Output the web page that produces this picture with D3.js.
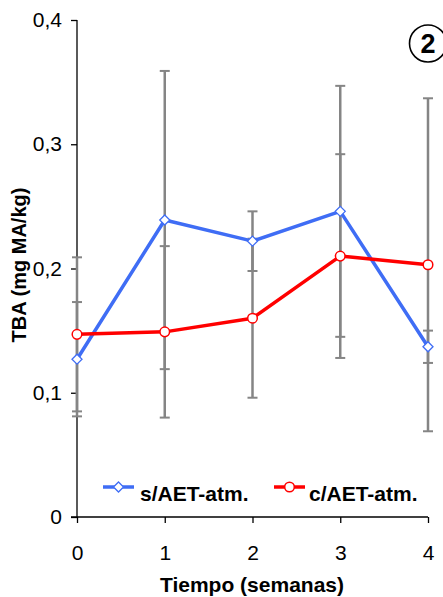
<!DOCTYPE html>
<html><head><meta charset="utf-8">
<script src="https://cdn.jsdelivr.net/npm/d3@7/dist/d3.min.js"></script>
<style>body{margin:0;background:#fff}svg{display:block;font-family:"Liberation Sans",Arial,sans-serif}</style>
</head><body>
<svg id="c" width="443" height="597"></svg>
<script>
const weeks = [0, 1, 2, 3, 4];
const seriesNames = ["s/AET-atm.", "c/AET-atm."];
const sValues = [0.127, 0.239, 0.222, 0.246, 0.137];
const sErrors = [0.046, 0.120, 0.024, 0.101, 0.013];
const cValues = [0.147, 0.149, 0.160, 0.210, 0.203];
const cErrors = [0.062, 0.069, 0.064, 0.082, 0.134];
const yTicks = [0, 0.1, 0.2, 0.3, 0.4];
const yTickLabels = ["0", "0,1", "0,2", "0,3", "0,4"];
const xTitle = "Tiempo (semanas)";
const yTitle = "TBA (mg MA/kg)";
const panelLabel = "2";

const svg = d3.select("#c");
const x = d3.scaleLinear().domain([0, 4]).range([77, 428]);
const y = d3.scaleLinear().domain([0, 0.4]).range([517, 20]);
const blue = "#3f6df5", red = "#ff0000", grey = "#858585";
const FONT = '"Liberation Sans",Arial,sans-serif';

// axes
const yAxis = d3.axisLeft(y).tickValues(yTicks).tickSize(6).tickFormat((d, i) => yTickLabels[i]);
const gy = svg.append("g").attr("transform", "translate(77,0)").call(yAxis)
  .attr("font-family", FONT).attr("font-size", 21);
gy.select(".domain").attr("stroke", "#000").attr("stroke-width", 1.3).attr("d", "M0,20V517");
gy.selectAll(".tick line").attr("stroke", "#000").attr("stroke-width", 1.3);
gy.selectAll(".tick text").attr("x", -15).attr("fill", "#000");

const xAxis = d3.axisBottom(x).tickValues(weeks).tickSize(6).tickFormat(d3.format("d"));
const gx = svg.append("g").attr("transform", "translate(0,517)").call(xAxis)
  .attr("font-family", FONT).attr("font-size", 21);
gx.select(".domain").attr("stroke", "#000").attr("stroke-width", 1.3).attr("d", "M71,0H428");
gx.selectAll(".tick line").attr("stroke", "#000").attr("stroke-width", 1.3);
gx.selectAll(".tick text").attr("y", 28).attr("fill", "#000");

// titles
svg.append("text").attr("x", 252).attr("y", 592).attr("text-anchor", "middle")
  .attr("font-size", 21).attr("font-weight", "bold").text(xTitle);
svg.append("text").attr("transform", "translate(26,265) rotate(-90)").attr("text-anchor", "middle")
  .attr("font-size", 20).attr("font-weight", "bold").text(yTitle);

// error bars
const series = [
  {name: seriesNames[0], vals: sValues, errs: sErrors, color: blue, marker: "diamond"},
  {name: seriesNames[1], vals: cValues, errs: cErrors, color: red, marker: "circle"}
];
const eb = svg.append("g");
series.forEach(s => {
  weeks.forEach((w, i) => {
    const lo = y(s.vals[i] - s.errs[i]), hi = y(s.vals[i] + s.errs[i]), cx = x(w);
    eb.append("line").attr("x1", cx).attr("x2", cx).attr("y1", lo).attr("y2", hi)
      .attr("stroke", grey).attr("stroke-width", 2.5);
    [lo, hi].forEach(yy => eb.append("line").attr("x1", cx - 5).attr("x2", cx + 5)
      .attr("y1", yy).attr("y2", yy).attr("stroke", grey).attr("stroke-width", 2));
  });
});

// lines
const line = d3.line().x((d, i) => x(weeks[i])).y(d => y(d));
series.forEach(s => {
  svg.append("path").attr("d", line(s.vals)).attr("fill", "none")
    .attr("stroke", s.color).attr("stroke-width", 3.5).attr("stroke-linejoin", "round");
});
function marker(g, type, cx, cy, color) {
  if (type === "circle") {
    g.append("circle").attr("cx", cx).attr("cy", cy).attr("r", 4.8)
      .attr("fill", "#fff").attr("stroke", color).attr("stroke-width", 1.5);
  } else {
    const r = 5;
    g.append("path").attr("d", `M${cx},${cy - r}L${cx + r},${cy}L${cx},${cy + r}L${cx - r},${cy}Z`)
      .attr("fill", "#fff").attr("stroke", color).attr("stroke-width", 1.3);
  }
}
series.forEach(s => {
  const g = svg.append("g");
  s.vals.forEach((v, i) => marker(g, s.marker, x(weeks[i]), y(v), s.color));
});

// legend
const legPos = [{lx: 103, tx: 140}, {lx: 274, tx: 309}];
series.forEach((s, i) => {
  const p = legPos[i], ly = 487;
  svg.append("line").attr("x1", p.lx).attr("x2", p.lx + 31).attr("y1", ly).attr("y2", ly)
    .attr("stroke", s.color).attr("stroke-width", 3.5);
  marker(svg, s.marker, p.lx + 15.5, ly, s.color);
  svg.append("text").attr("x", p.tx).attr("y", 501).attr("font-size", 21)
    .attr("font-weight", "bold").text(s.name);
});

// panel label
svg.append("circle").attr("cx", 428).attr("cy", 43.5).attr("r", 18.5)
  .attr("fill", "none").attr("stroke", "#000").attr("stroke-width", 1.6);
svg.append("text").attr("x", 428).attr("y", 53).attr("text-anchor", "middle")
  .attr("font-size", 27).attr("font-weight", "bold").text(panelLabel);
</script>
</body></html>
